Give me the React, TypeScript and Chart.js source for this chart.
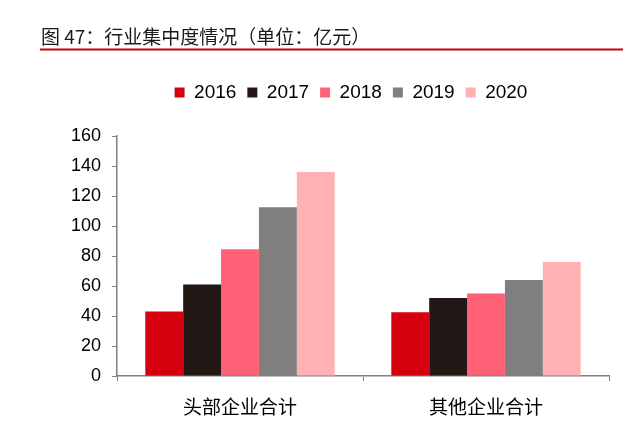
import React, { useEffect, useRef } from "react";
import { Chart, registerables } from "chart.js";

Chart.register(...registerables);

const categories = ["头部企业合计", "其他企业合计"];
const years = ["2016", "2017", "2018", "2019", "2020"];
const values2016 = [43, 42.5];
const values2017 = [61, 52];
const values2018 = [84.5, 55];
const values2019 = [112.5, 64];
const values2020 = [136, 76];
const seriesValues = [values2016, values2017, values2018, values2019, values2020];
const colors = ["#D7000F", "#231815", "#FF6176", "#7F7F7F", "#FFB1B4"];
const titleText = "图 47：行业集中度情况（单位：亿元）";

const titlePlugin = {
  id: "pageTitle",
  afterLayout(chart: any) {
    // widen the y-axis box to the left so its tick labels are not clipped
    const y = chart.scales.y;
    y.left = 40;
    y.width = y.right - y.left;
  },
  afterDraw(chart: any) {
    const ctx = chart.ctx;
    ctx.save();
    ctx.font = '19px "Noto Sans CJK SC", sans-serif';
    ctx.fillStyle = "#1a1a1a";
    ctx.textBaseline = "middle";
    ctx.textAlign = "left";
    ctx.fillText(titleText, 41, 37);
    ctx.strokeStyle = "#C8000A";
    ctx.lineWidth = 2;
    ctx.beginPath();
    ctx.moveTo(40, 49.5);
    ctx.lineTo(623, 49.5);
    ctx.stroke();
    ctx.restore();
  },
};

export default function App() {
  const ref = useRef<HTMLCanvasElement>(null);
  useEffect(() => {
    document.body.style.margin = "0";
    const chart = new Chart(ref.current!, {
      type: "bar",
      data: {
        labels: categories,
        datasets: years.map((y, i) => ({
          label: y,
          data: seriesValues[i],
          backgroundColor: colors[i],
          borderWidth: 0,
          categoryPercentage: 0.77,
          barPercentage: 1,
        })),
      },
      options: {
        responsive: false,
        animation: false,
        layout: { padding: { left: 93, right: 31, top: 72, bottom: 0 } },
        plugins: {
          tooltip: { enabled: false },
          legend: {
            position: "top",
            labels: {
              boxWidth: 10,
              boxHeight: 10,
              padding: 11,
              color: "#000",
              font: { family: '"Liberation Sans", Arial, sans-serif', size: 19 },
            },
          },
          subtitle: {
            display: true,
            text: " ",
            weight: 500,
            padding: 7,
            font: { size: 10, lineHeight: 1 },
          } as any,
        },
        scales: {
          x: {
            afterFit: (s: any) => {
              s.height = 64;
            },
            grid: {
              drawOnChartArea: false,
              drawTicks: true,
              tickLength: 5,
              color: "#808080",
              offset: true,
            },
            border: { color: "#808080", width: 1.5 },
            ticks: {
              color: "#000",
              padding: 14,
              font: { family: '"Noto Sans CJK SC", sans-serif', size: 19 },
            },
          },
          y: {
            min: 0,
            max: 160,
            afterFit: (s: any) => {
              s.width = 24;
            },
            grid: {
              drawOnChartArea: false,
              drawTicks: true,
              tickLength: 5,
              color: "#808080",
            },
            border: { color: "#808080", width: 1.5 },
            ticks: {
              stepSize: 20,
              color: "#000",
              padding: 11,
              font: { family: '"Liberation Sans", Arial, sans-serif', size: 18 },
            },
          },
        },
      },
      plugins: [titlePlugin],
    });
    return () => chart.destroy();
  }, []);
  return <canvas ref={ref} width={640} height={440} style={{ display: "block" }} />;
}
